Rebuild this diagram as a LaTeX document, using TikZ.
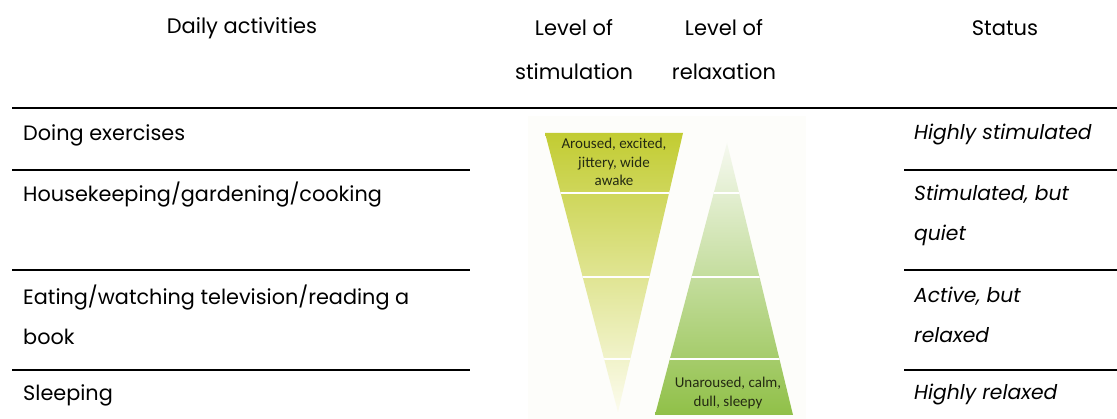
\documentclass[tikz,border=0pt]{standalone}
\usepackage{fontspec}
\setmainfont{Poppins}
\newfontfamily\chartfont{Carlito}
\definecolor{stimTop}{RGB}{194,204,50}
\definecolor{stimMid}{RGB}{226,229,136}
\definecolor{stimBot}{RGB}{252,252,238}
\definecolor{relTop}{RGB}{246,249,240}
\definecolor{relMid}{RGB}{196,220,152}
\definecolor{relBot}{RGB}{144,192,72}
\definecolor{chartInk}{RGB}{36,42,18}
\definecolor{bgTint}{RGB}{253,253,250}

\begin{document}
\begin{tikzpicture}[x=1pt, y=-1pt,
    headText/.style={font=\fontsize{21}{44}\selectfont, align=center, inner sep=0pt},
    rowText/.style={font=\fontsize{20.8}{40}\selectfont, align=left, anchor=west, inner sep=0pt},
    statusText/.style={rowText, font=\itshape\fontsize{20.3}{40}\selectfont},
    chartText/.style={font=\chartfont\fontsize{15}{18.5}\selectfont, align=center, text=chartInk, inner sep=0pt},
    headRule/.style={line width=2pt},
    rowRule/.style={line width=1.6pt},
    sepLine/.style={white, line width=2.2pt}]
    \useasboundingbox (0,0) rectangle (1117,419);

    % header
    \node[headText] (headAct) at (242,28) {Daily activities};
    \node[headText] (headStim) at (574,50) {Level of\\stimulation};
    \node[headText] (headRel) at (724,50) {Level of\\relaxation};
    \node[headText] (headStat) at (1005,28) {Status};
    \draw[headRule] (12,108) -- (1117,108);

    % rows
    \node[rowText] (act1) at (23,135) {Doing exercises};
    \node[rowText] (act2) at (23,195) {Housekeeping/gardening/cooking};
    \node[rowText] (act3) at (23,315) {Eating/watching television/reading a\\book};
    \node[rowText] (act4) at (23,395) {Sleeping};

    \node[statusText] (stat1) at (914,135) {Highly stimulated};
    \node[statusText] (stat2) at (914,215) {Stimulated, but\\quiet};
    \node[statusText] (stat3) at (914,315) {Active, but\\relaxed};
    \node[statusText] (stat4) at (914,395) {Highly relaxed};

    \foreach \y in {170,270,370}{
        \draw[rowRule] (12,\y) -- (470,\y);
        \draw[rowRule] (904,\y) -- (1117,\y);
    }

    % triangles
    \fill[bgTint] (528,116) rectangle (806,419);
    \begin{scope}
        \clip (545,133) -- (683,133) -- (618,412) -- cycle;
        \shade[top color=stimTop, middle color=stimMid, bottom color=stimBot]
            (545,133) rectangle (683,412);
        \foreach \y in {193,277,359}
            \draw[sepLine] (540,\y) -- (690,\y);
    \end{scope}
    \begin{scope}
        \clip (727,143) -- (793,415) -- (655,415) -- cycle;
        \shade[top color=relTop, middle color=relMid, bottom color=relBot]
            (655,143) rectangle (793,415);
        \foreach \y in {193,277,359}
            \draw[sepLine] (650,\y) -- (800,\y);
    \end{scope}

    \node[chartText] (stimTxt) at (614,162) {Aroused, excited,\\jittery, wide\\awake};
    \node[chartText] (relTxt) at (728,393) {Unaroused, calm,\\dull, sleepy};
\end{tikzpicture}
\end{document}
